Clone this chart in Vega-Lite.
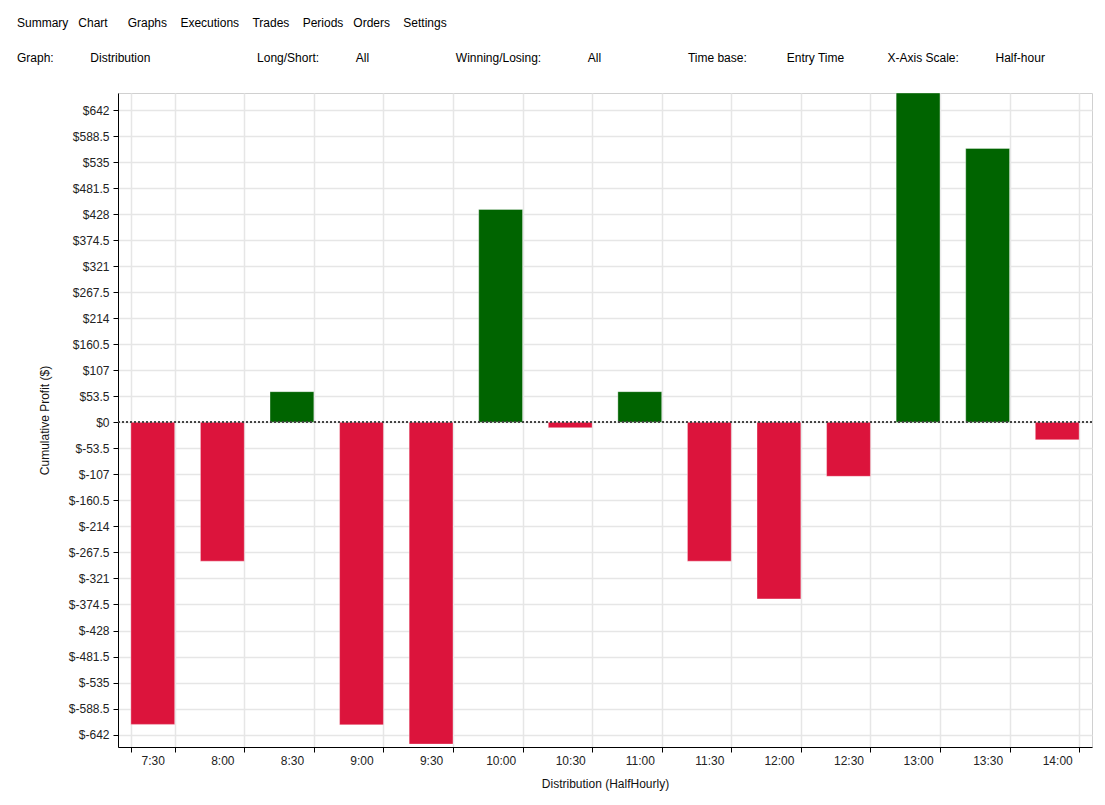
{
  "$schema": "https://vega.github.io/schema/vega-lite/v6.json",
  "width": 974,
  "height": 654,
  "padding": {"left": 17, "top": 17, "right": 5, "bottom": 5},
  "background": "white",
  "config": {
    "font": "Liberation Sans",
    "view": {"stroke": "#d0d0d0", "strokeWidth": 1},
    "axis": {
      "labelFont": "Liberation Sans",
      "labelFontSize": 12,
      "labelColor": "#222222",
      "titleFont": "Liberation Sans",
      "titleFontSize": 12,
      "titleFontWeight": "normal",
      "titleColor": "#111111",
      "domainColor": "#000000",
      "tickColor": "#000000",
      "gridColor": "#e6e6e6",
      "gridWidth": 1.5,
      "tickSize": 5,
      "labelOverlap": false
    }
  },
  "title": {
    "text": [
      "Summary\u00a0\u00a0\u00a0Chart\u00a0\u00a0\u00a0\u00a0\u00a0\u00a0Graphs\u00a0\u00a0\u00a0\u00a0Executions\u00a0\u00a0\u00a0\u00a0Trades\u00a0\u00a0\u00a0\u00a0Periods\u00a0\u00a0\u00a0Orders\u00a0\u00a0\u00a0\u00a0Settings",
      "Graph:\u00a0\u00a0\u00a0\u00a0\u00a0\u00a0\u00a0\u00a0\u00a0\u00a0\u00a0Distribution\u00a0\u00a0\u00a0\u00a0\u00a0\u00a0\u00a0\u00a0\u00a0\u00a0\u00a0\u00a0\u00a0\u00a0\u00a0\u00a0\u00a0\u00a0\u00a0\u00a0\u00a0\u00a0\u00a0\u00a0\u00a0\u00a0\u00a0\u00a0\u00a0\u00a0\u00a0\u00a0Long/Short:\u00a0\u00a0\u00a0\u00a0\u00a0\u00a0\u00a0\u00a0\u00a0\u00a0\u00a0All\u00a0\u00a0\u00a0\u00a0\u00a0\u00a0\u00a0\u00a0\u00a0\u00a0\u00a0\u00a0\u00a0\u00a0\u00a0\u00a0\u00a0\u00a0\u00a0\u00a0\u00a0\u00a0\u00a0\u00a0\u00a0\u00a0Winning/Losing:\u00a0\u00a0\u00a0\u00a0\u00a0\u00a0\u00a0\u00a0\u00a0\u00a0\u00a0\u00a0\u00a0\u00a0All\u00a0\u00a0\u00a0\u00a0\u00a0\u00a0\u00a0\u00a0\u00a0\u00a0\u00a0\u00a0\u00a0\u00a0\u00a0\u00a0\u00a0\u00a0\u00a0\u00a0\u00a0\u00a0\u00a0\u00a0\u00a0\u00a0Time base:\u00a0\u00a0\u00a0\u00a0\u00a0\u00a0\u00a0\u00a0\u00a0\u00a0\u00a0\u00a0Entry Time\u00a0\u00a0\u00a0\u00a0\u00a0\u00a0\u00a0\u00a0\u00a0\u00a0\u00a0\u00a0\u00a0X-Axis Scale:\u00a0\u00a0\u00a0\u00a0\u00a0\u00a0\u00a0\u00a0\u00a0\u00a0\u00a0Half-hour"
    ],
    "anchor": "start",
    "frame": "group",
    "dx": -101,
    "fontSize": 12,
    "fontWeight": "normal",
    "font": "Liberation Sans",
    "color": "#000000",
    "lineHeight": 35,
    "offset": 28
  },
  "data": {
    "values": [
      {"slot": "7:30", "profit": -621},
      {"slot": "8:00", "profit": -285.5},
      {"slot": "8:30", "profit": 63},
      {"slot": "9:00", "profit": -622},
      {"slot": "9:30", "profit": -661.5},
      {"slot": "10:00", "profit": 437.6},
      {"slot": "10:30", "profit": -11},
      {"slot": "11:00", "profit": 63},
      {"slot": "11:30", "profit": -285.5},
      {"slot": "12:00", "profit": -363},
      {"slot": "12:30", "profit": -111},
      {"slot": "13:00", "profit": 677},
      {"slot": "13:30", "profit": 563},
      {"slot": "14:00", "profit": -36}
    ]
  },
  "encoding": {
    "x": {
      "field": "slot",
      "type": "nominal",
      "sort": null,
      "scale": {"paddingInner": 0.37, "paddingOuter": 0.185},
      "axis": {
        "title": "Distribution (HalfHourly)",
        "labelAngle": 0,
        "tickBand": "extent",
        "grid": true,
        "labelPadding": 3,
        "titlePadding": 12
      }
    }
  },
  "layer": [
    {
      "mark": {"type": "bar", "clip": true, "strokeWidth": 1, "strokeOpacity": 0.35, "stroke": "white"},
      "encoding": {
        "y": {
          "field": "profit",
          "type": "quantitative",
          "scale": {"domain": [-667.5, 677], "nice": false, "zero": false},
          "axis": {
            "title": "Cumulative Profit ($)",
            "values": [-642, -588.5, -535, -481.5, -428, -374.5, -321, -267.5, -214, -160.5, -107, -53.5, 0, 53.5, 107, 160.5, 214, 267.5, 321, 374.5, 428, 481.5, 535, 588.5, 642],
            "labelExpr": "'$' + datum.value",
            "labelOverlap": false,
            "labelPadding": 4,
            "titlePadding": 17,
            "grid": true
          }
        },
        "color": {
          "condition": {"test": "datum.profit >= 0", "value": "#006400"},
          "value": "#DC143C"
        }
      }
    },
    {
      "mark": {"type": "rule", "color": "#444444", "strokeDash": [2, 2], "strokeWidth": 1},
      "encoding": {
        "y": {
          "datum": 0,
          "type": "quantitative",
          "axis": {
            "title": "Cumulative Profit ($)",
            "values": [-642, -588.5, -535, -481.5, -428, -374.5, -321, -267.5, -214, -160.5, -107, -53.5, 0, 53.5, 107, 160.5, 214, 267.5, 321, 374.5, 428, 481.5, 535, 588.5, 642],
            "labelExpr": "'$' + datum.value",
            "labelOverlap": false,
            "labelPadding": 4,
            "titlePadding": 17,
            "grid": true
          }
        },
        "x": null
      }
    }
  ]
}
